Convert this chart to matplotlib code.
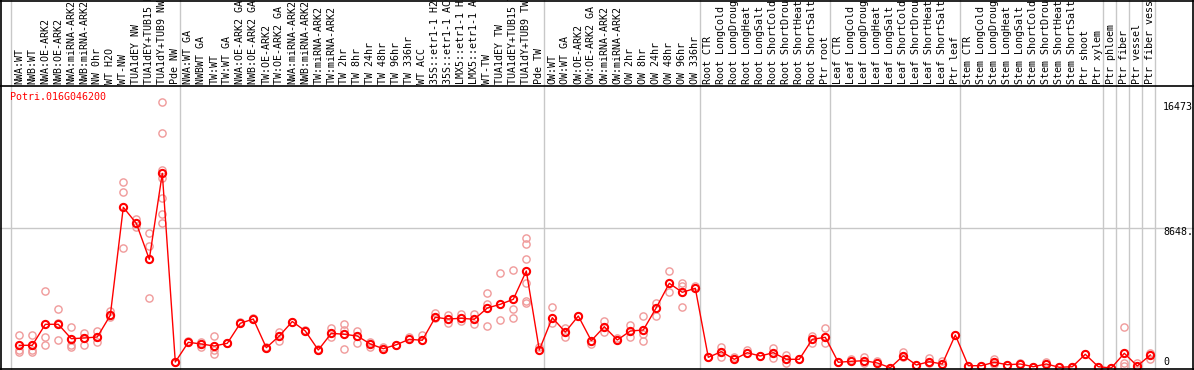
import matplotlib
matplotlib.use("Agg")
import matplotlib.pyplot as plt
from matplotlib.lines import Line2D

# ---------------------------
# data
# ---------------------------
gene = "Potri.016G046200"

labels = [
    # group 1
    "NWA:WT", "NWB:WT", "NWA:OE-ARK2", "NWB:OE-ARK2", "NWA:miRNA-ARK2", "NWB:miRNA-ARK2",
    "NW 0hr", "WT H2O", "WT-NW", "TUA1dEY NW", "TUA1dEY+TUB15 NW", "TUA1dY+TUB9 NW", "Pde NW",
    # group 2
    "NWA:WT GA", "NWBWT GA", "TW:WT", "TW:WT GA", "NWA:OE-ARK2 GA", "NWB:OE-ARK2 GA",
    "TW:OE-ARK2", "TW:OE-ARK2 GA", "NWA:miRNA-ARK2", "NWB:miRNA-ARK2", "TW:miRNA-ARK2",
    "TW:miRNA-ARK2", "TW 2hr", "TW 8hr", "TW 24hr", "TW 48hr", "TW 96hr", "TW 336hr", "WT ACC",
    "35S::etr1-1 H2O", "35S::etr1-1 ACC", "LMX5::etr1-1 H2O", "LMX5::etr1-1 ACC", "WT-TW",
    "TUA1dEY TW", "TUA1dEY+TUB15 TW", "TUA1dY+TUB9 TW", "Pde TW",
    # group 3
    "OW:WT", "OW:WT GA", "OW:OE-ARK2", "OW:OE-ARK2 GA", "OW:miRNA-ARK2", "OW:miRNA-ARK2",
    "OW 2hr", "OW 8hr", "OW 24hr", "OW 48hr", "OW 96hr", "OW 336hr",
    # root
    "Root CTR", "Root LongCold", "Root LongDrought", "Root LongHeat", "Root LongSalt",
    "Root ShortCold", "Root ShortDrought", "Root ShortHeat", "Root ShortSalt", "Ptr root",
    # leaf
    "Leaf CTR", "Leaf LongCold", "Leaf LongDrought", "Leaf LongHeat", "Leaf LongSalt",
    "Leaf ShortCold", "Leaf ShortDrought", "Leaf ShortHeat", "Leaf ShortSalt", "Ptr leaf",
    # stem
    "Stem CTR", "Stem LongCold", "Stem LongDrought", "Stem LongHeat", "Stem LongSalt",
    "Stem ShortCold", "Stem ShortDrought", "Stem ShortHeat", "Stem ShortSalt", "Ptr shoot",
    "Ptr xylem",
    # single tissues
    "Ptr phloem", "Ptr fiber", "Ptr vessel", "Ptr fiber vessel",
]

# index of first column of each group (+ end)
group_starts = [0, 13, 41, 53, 63, 73, 84, 85, 86, 87, 88]

means = [
    1405, 1405, 2705, 2705, 1814, 1857, 1919, 3262, 9948, 8957, 6729, 12052, 371,
    1591, 1486, 1362, 1529, 2767, 3033, 1257, 1981, 2878, 2290, 1114, 2148, 2086,
    1981, 1486, 1195, 1442, 1777, 1715, 3138, 3033, 3077, 3015, 3714, 3943, 4253,
    6005, 1114,
    3114, 2228, 3219, 1690, 2557, 1733, 2290, 2352, 3733, 5243, 4686, 4934,
    662, 1009, 539, 947, 743, 947, 539, 539, 1777, 1900,
    353, 415, 452, 310, 19, 761, 186, 390, 248, 2043,
    142, 142, 353, 204, 248, 80, 248, 43, 80, 848, 80,
    0, 910, 124, 805,
]

replicates = [
    [2024, 1114, 990], [2024, 1114, 990], [4748, 1919, 1405], [3634, 1715, 2766],
    [2519, 1405, 1319], [2185, 1405, 1857], [2309, 1609, 1919], [3547, 3138, 3262],
    [11495, 10876, 7410], [9205, 8710], [8357, 7571, 4315],
    [16473, 14528, 12257, 11743, 10505, 9533, 8957], [371],
    [1591, 1650], [1609, 1319], [1981, 1114, 867], [1529, 1560], [2767, 2830],
    [3033, 3100], [1257, 1320], [2247, 1690], [2878], [2290, 2350], [1114, 1180],
    [2458, 1938], [2705, 2352, 1158], [2309, 1566], [1628, 1281], [1319], [1442],
    [1900], [2024], [3423, 3077], [3262, 2804], [3324, 2928], [3324, 2724],
    [4624, 3962, 2600], [5881, 2971], [6067, 3634, 3077],
    [8066, 7657, 6729, 5280, 4148, 4042], [1319],
    [3758, 2804], [2495, 1938], [3219], [1486], [2928, 2247], [1857],
    [2662, 1938], [3219, 2105, 1653], [4042, 3219], [6005, 4686], [5280, 5076, 3758],
    [5076],
    [662], [1281, 700], [700], [1114], [743], [1219, 638], [805, 291], [539],
    [1981, 1529], [2458, 1566],
    [353], [539], [700, 291], [433], [19], [1009, 662], [186], [600, 291], [415],
    [2043],
    [142], [142], [539, 229], [204], [328], [80], [371], [43], [80], [848], [80],
    [0], [2519, 291, 142], [291], [947, 557],
]

gridline_value = 8648
axis_labels = ["16473", "8648.", "0"]

# ---------------------------
# layout (pixels)
# ---------------------------
W, H = 1194, 370
x0_px, step_px = 19.3, 13.0      # centre of first column, column spacing
zero_px, scale = 368.0, 8648 / 139.7  # y pixel of value 0, value per pixel
header_px = 86

fig = plt.figure(figsize=(W / 100, H / 100), dpi=100)
ax = fig.add_axes([0, 0, 1, 1])
ax.set_xlim(-x0_px / step_px, (W - x0_px) / step_px)
ax.set_ylim(-(H - zero_px) * scale, zero_px * scale)
ax.axis("off")

mono = "DejaVu Sans Mono"
fs = 7.2
light = "#f09a9a"

# group separators
for j in group_starts:
    ax.axvline(j - 0.64, color="#c8c8c8", lw=1.0, zorder=1)

# gridline
ax.axhline(gridline_value, color="#c8c8c8", lw=1.0, zorder=1)

# replicates
for i, reps in enumerate(replicates):
    ax.plot([i] * len(reps), reps, "o", ms=5.2, mfc="none", mec=light,
            mew=1.0, zorder=2)

# mean line
ax.plot(range(len(means)), means, "-", color="red", lw=1.0, zorder=3)
ax.plot(range(len(means)), means, "o", ms=5.2, mfc="none", mec="red",
        mew=1.5, zorder=4)

# header labels
hy = 1 - (header_px - 2) / H
for i, lab in enumerate(labels):
    ax.text(i, hy, lab, rotation=90, ha="center", va="bottom", fontsize=fs,
            family=mono, color="black", transform=ax.get_xaxis_transform(),
            zorder=5)

# gene name
fig.text(10 / W, 1 - 97 / H, gene, color="red", fontsize=fs, family=mono,
         ha="left", va="center")

# right side value labels
for lab, ypx in zip(axis_labels, [107, 232, 362]):
    fig.text(1163 / W, 1 - ypx / H, lab, color="black", fontsize=fs,
             family=mono, ha="left", va="center")

# borders
def hline(ypx):
    fig.add_artist(Line2D([0, 1], [1 - ypx / H] * 2, color="black", lw=1.2))

def vline(xpx):
    fig.add_artist(Line2D([xpx / W] * 2, [0, 1], color="black", lw=1.2))

hline(0.5)
hline(header_px)
hline(369)
vline(1.0)
vline(1192.8)

fig.savefig("out.png", dpi=100)
